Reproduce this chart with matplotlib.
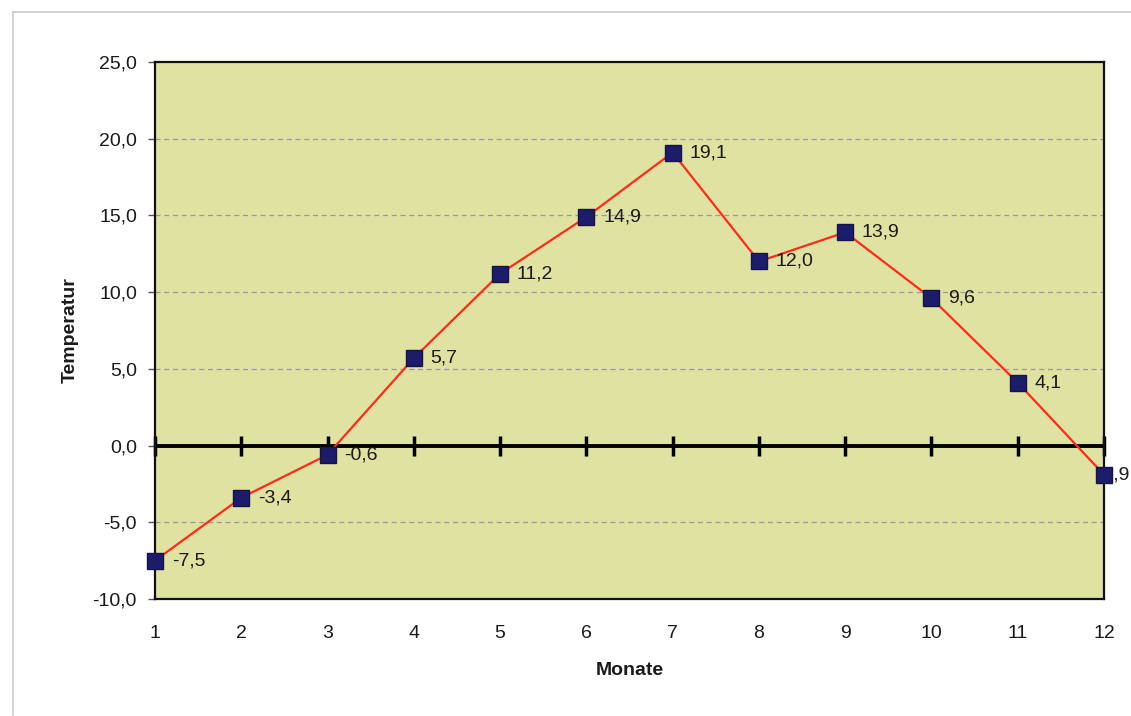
import matplotlib
matplotlib.use("Agg")
import matplotlib.pyplot as plt
from matplotlib.ticker import FuncFormatter
from matplotlib.lines import Line2D

months = [1, 2, 3, 4, 5, 6, 7, 8, 9, 10, 11, 12]
temps = [-7.5, -3.4, -0.6, 5.7, 11.2, 14.9, 19.1, 12.0, 13.9, 9.6, 4.1, -1.9]
yticks = [-10, -5, 0, 5, 10, 15, 20, 25]

plt.rcParams['font.family'] = ['Liberation Sans', 'DejaVu Sans']
FS = 14

fig = plt.figure(figsize=(11.31, 7.16), dpi=100)
ax = fig.add_axes([155/1131, 1-599/716, (1104-155)/1131, (599-62)/716])
ax.set_facecolor('#dfe2a0')

ax.set_xlim(1, 12)
ax.set_ylim(-10, 25)
ax.set_yticks(yticks)
ax.yaxis.set_major_formatter(FuncFormatter(lambda v, p: f"{v:.1f}".replace('.', ',')))
ax.set_xticks(months)
ax.tick_params(axis='x', length=0, pad=19, labelsize=FS, labelcolor='#1a1a1a')
ax.tick_params(axis='y', length=5, width=1, direction='out', pad=8, labelsize=FS,
               color='#555555', labelcolor='#1a1a1a')

for v in yticks:
    if v not in (0, -10, 25):
        ax.axhline(v, color='#9a9a9a', lw=0.9, ls=(0, (4, 3)), zorder=1)

ax.axhline(0, color='black', lw=2.8, zorder=2)
ax.plot(months, [0]*len(months), ls='none', marker='|', markersize=14,
        markeredgewidth=2.5, color='black', zorder=2, clip_on=False)

ax.plot(months, temps, color='#ff2a1a', lw=1.6, zorder=3, clip_on=False)
ax.plot(months, temps, ls='none', marker='s', markersize=11, markerfacecolor='#1c1c6b',
        markeredgecolor='#14144a', zorder=6, clip_on=False)

for i, (m, t) in enumerate(zip(months, temps)):
    lab = f"{t:.1f}".replace('.', ',')
    if i == len(months) - 1:
        ax.annotate(lab, (m, t), xytext=(18, 0), textcoords='offset points',
                    ha='right', va='center', fontsize=FS, color='#1a1a1a',
                    annotation_clip=False, zorder=5)
    else:
        ax.annotate(lab, (m, t), xytext=(12, 0), textcoords='offset points',
                    ha='left', va='center', fontsize=FS, color='#1a1a1a',
                    annotation_clip=False, zorder=5)

for s in ax.spines.values():
    s.set_linewidth(1.6)
    s.set_color('#111111')

ax.set_xlabel('Monate', fontsize=FS, fontweight='bold', labelpad=14, color='#1a1a1a')
ax.set_ylabel('Temperatur', fontsize=FS, fontweight='bold', labelpad=10, color='#1a1a1a')

# outer chart-area border
fig.add_artist(Line2D([13/1131, 13/1131], [1-12/716, 0.002], color='#cccccc', lw=1.2))
fig.add_artist(Line2D([13/1131, 1.0], [1-12/716, 1-12/716], color='#cccccc', lw=1.2))

fig.savefig('out.png', dpi=100)
